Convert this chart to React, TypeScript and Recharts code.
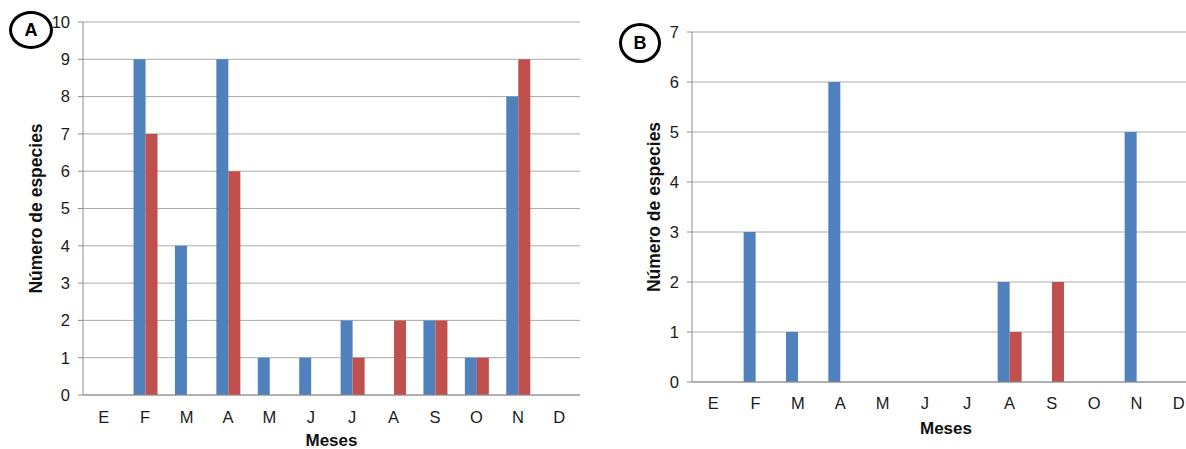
import React from "react";
import {
  BarChart,
  Bar,
  XAxis,
  YAxis,
  CartesianGrid,
} from "recharts";

// ─── DATA ──────────────────────────────────────────────────────────────────
const meses = ["E", "F", "M", "A", "M", "J", "J", "A", "S", "O", "N", "D"];

const azulA = [0, 9, 4, 9, 1, 1, 2, 0, 2, 1, 8, 0];
const rojoA = [0, 7, 0, 6, 0, 0, 1, 2, 2, 1, 9, 0];
const ticksA = [0, 1, 2, 3, 4, 5, 6, 7, 8, 9, 10];

const azulB = [0, 3, 1, 6, 0, 0, 0, 2, 0, 0, 5, 0];
const rojoB = [0, 0, 0, 0, 0, 0, 0, 1, 2, 0, 0, 0];
const ticksB = [0, 1, 2, 3, 4, 5, 6, 7];

const BLUE = "#4F81BD";
const RED = "#C0504D";
const GRID = "#ABABAB";
const AXIS = "#8C8C8C";
const FONT = "'Liberation Sans', Arial, sans-serif";

const buildRows = (azul: number[], rojo: number[]) =>
  meses.map((mes, i) => ({ mes, azul: azul[i], rojo: rojo[i] }));

const tickStyle = { fontFamily: FONT, fontSize: 16.5, fill: "#1a1a1a" };

// ─── PANEL ─────────────────────────────────────────────────────────────────
interface PanelProps {
  rows: { mes: string; azul: number; rojo: number }[];
  ticks: number[];
  width: number;
  marginTop: number;
  marginRight: number;
  axisWidth: number;
  xAxisHeight: number;
  tickGap: number;
  yLabelOffset: number;
  xLabelOffset: number;
}

function Panel({
  rows,
  ticks,
  width,
  marginTop,
  marginRight,
  axisWidth,
  xAxisHeight,
  tickGap,
  yLabelOffset,
  xLabelOffset,
}: PanelProps) {
  return (
    <BarChart
      width={width}
      height={449}
      data={rows}
      margin={{ top: marginTop, right: marginRight, left: 0, bottom: 0 }}
      barCategoryGap="22%"
      barGap={0}
    >
      <CartesianGrid vertical={false} stroke={GRID} strokeWidth={1} />
      <XAxis
        dataKey="mes"
        interval={0}
        height={xAxisHeight}
        tickLine={false}
        tickSize={0}
        tickMargin={tickGap}
        axisLine={{ stroke: AXIS }}
        tick={tickStyle}
        label={{
          value: "Meses",
          position: "insideBottom",
          offset: xLabelOffset,
          style: { fontFamily: FONT, fontSize: 17, fontWeight: 700, fill: "#111" },
        }}
      />
      <YAxis
        width={axisWidth}
        domain={[0, ticks[ticks.length - 1]]}
        ticks={ticks}
        interval={0}
        tickSize={5}
        tickMargin={8}
        tickLine={{ stroke: AXIS }}
        axisLine={{ stroke: AXIS }}
        tick={tickStyle}
        label={{
          value: "Número de especies",
          angle: -90,
          position: "insideLeft",
          offset: yLabelOffset,
          style: {
            textAnchor: "middle",
            fontFamily: FONT,
            fontSize: 17.5,
            fontWeight: 700,
            fill: "#111",
          },
        }}
      />
      <Bar dataKey="azul" fill={BLUE} isAnimationActive={false} />
      <Bar dataKey="rojo" fill={RED} isAnimationActive={false} />
    </BarChart>
  );
}

// circled panel letters
const Badge = ({ letter, cx, cy, rx, ry }: any) => (
  <div
    style={{
      position: "absolute",
      left: cx - rx,
      top: cy - ry,
      width: rx * 2,
      height: ry * 2,
      boxSizing: "border-box",
      border: "3px solid #000",
      borderRadius: "50%",
      display: "flex",
      alignItems: "center",
      justifyContent: "center",
      fontFamily: FONT,
      fontWeight: 700,
      fontSize: 18,
      color: "#000",
    }}
  >
    {letter}
  </div>
);

// ─── MAIN COMPONENT ────────────────────────────────────────────────────────
export default function App() {
  return (
    <div
      style={{
        position: "absolute",
        left: 0,
        top: 0,
        width: 1186,
        height: 449,
        background: "#fff",
        overflow: "hidden",
      }}
    >
      <div style={{ position: "absolute", left: 0, top: 0 }}>
        <Panel
          rows={buildRows(azulA, rojoA)}
          ticks={ticksA}
          width={581}
          marginTop={22}
          marginRight={1}
          axisWidth={83}
          xAxisHeight={54}
          tickGap={16}
          yLabelOffset={36}
          xLabelOffset={3}
        />
      </div>
      <div style={{ position: "absolute", left: 600, top: 0 }}>
        <Panel
          rows={buildRows(azulB, rojoB)}
          ticks={ticksB}
          width={600}
          marginTop={32}
          marginRight={0}
          axisWidth={92}
          xAxisHeight={67}
          tickGap={15}
          yLabelOffset={54}
          xLabelOffset={15}
        />
      </div>
      <Badge letter="A" cx={31} cy={30} rx={22} ry={19} />
      <Badge letter="B" cx={640} cy={43} rx={21} ry={20} />
    </div>
  );
}
